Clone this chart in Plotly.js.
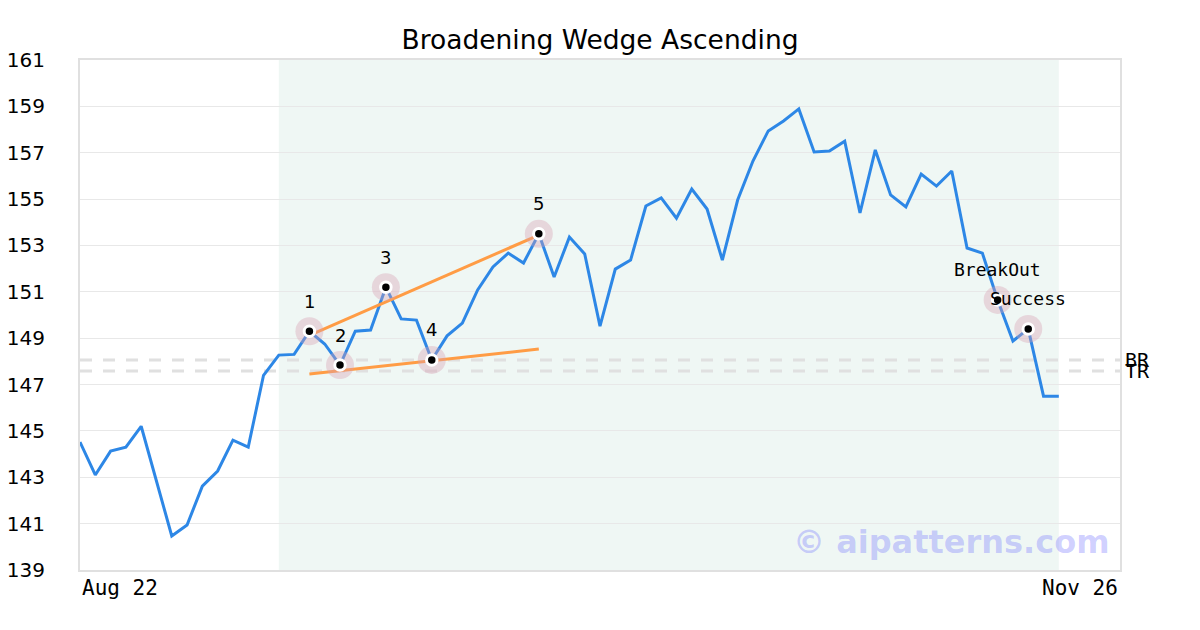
<!DOCTYPE html>
<html>
<head>
<meta charset="utf-8">
<script src="https://cdn.plot.ly/plotly-3.0.1.min.js"></script>
<style>html,body{margin:0;padding:0;background:#fff;}#chart{width:1200px;height:630px;}</style>
</head>
<body>
<div id="chart"></div>
<script>
// ---- data ----
const chartTitle = "Broadening Wedge Ascending";
const prices = [144.52,143.1,144.13,144.3,145.2,142.8,140.47,140.94,142.62,143.27,144.6,144.3,147.4,148.27,148.3,
  149.3,148.75,147.84,149.3,149.35,151.2,149.83,149.78,148.06,149.1,149.65,151.08,152.07,152.67,152.24,
  153.5,151.64,153.36,152.63,149.52,151.98,152.37,154.7,155.05,154.18,155.43,154.57,152.37,154.96,156.64,
  157.94,158.37,158.89,157.03,157.07,157.5,154.4,157.12,155.18,154.66,156.08,155.56,156.21,152.89,152.67,
  150.65,148.88,149.4,146.5,146.5];
const xIndex = prices.map((_, i) => i);
const xRange = [0, 68];
const tickLabels = ["Aug 22", "Nov 26"];
const yTicks = [139,141,143,145,147,149,151,153,155,157,159,161];
const patternIdx = [15, 17, 20, 23, 30];
const patternLabels = ["1", "2", "3", "4", "5"];
const signalIdx = [60, 62];
const signalLabels = ["BreakOut", "Success"];
const upperLineX = [15, 30];
const upperLineY = [149.12, 153.45];
const lowerLineX = [15, 30];
const lowerLineY = [147.45, 148.53];
const levelValues = [148.06, 147.58];
const levelNames = ["BR", "TR"];
const shadeRange = [13, 64];
const watermark = "© aipatterns.com";

// ---- traces ----
const allIdx = patternIdx.concat(signalIdx);
const traces = [
  {x: xIndex, y: prices, mode: "lines", line: {color: "#2d87e6", width: 3}, hoverinfo: "skip"},
  {x: upperLineX, y: upperLineY, mode: "lines", line: {color: "#ff9c45", width: 3}, hoverinfo: "skip"},
  {x: lowerLineX, y: lowerLineY, mode: "lines", line: {color: "#ff9c45", width: 3}, hoverinfo: "skip"},
  {x: allIdx, y: allIdx.map(i => prices[i]), mode: "markers",
   marker: {size: 28, color: "rgba(215,160,178,0.38)"}, hoverinfo: "skip"},
  {x: allIdx, y: allIdx.map(i => prices[i]), mode: "markers",
   marker: {size: 10.5, color: "#000", line: {color: "#fff", width: 3}}, hoverinfo: "skip"}
];

const annotations = [];
patternIdx.forEach((i, k) => annotations.push({
  x: i, y: prices[i], xref: "x", yref: "y", text: patternLabels[k], showarrow: false,
  yshift: 30, font: {family: "DejaVu Sans", size: 18, color: "#000"}
}));
signalIdx.forEach((i, k) => annotations.push({
  x: i, y: prices[i], xref: "x", yref: "y", text: signalLabels[k], showarrow: false,
  yshift: 30, font: {family: "DejaVu Sans Mono", size: 18, color: "#000"}
}));
levelValues.forEach((v, k) => annotations.push({
  x: 1, xref: "paper", y: v, yref: "y", text: levelNames[k], showarrow: false,
  xanchor: "left", xshift: 3, font: {family: "DejaVu Sans Mono", size: 20, color: "#000"}
}));
annotations.push({x: 0, xref: "paper", y: 0, yref: "paper", yanchor: "top", xanchor: "left", yshift: -4,
  text: tickLabels[0], showarrow: false, font: {family: "DejaVu Sans Mono", size: 21, color: "#000"}});
annotations.push({x: 1, xref: "paper", y: 0, yref: "paper", yanchor: "top", xanchor: "right", yshift: -4,
  text: tickLabels[1], showarrow: false, font: {family: "DejaVu Sans Mono", size: 21, color: "#000"}});
annotations.push({x: 1, xref: "paper", y: 0.055, yref: "paper", yanchor: "middle", xanchor: "right", xshift: -8,
  text: "<b>" + watermark + "</b>", showarrow: false,
  font: {family: "DejaVu Sans", size: 32, color: "rgba(110,110,255,0.33)"}});

const shapes = [{type: "rect", xref: "x", yref: "paper", x0: shadeRange[0], x1: shadeRange[1], y0: 0, y1: 1,
  fillcolor: "#eff7f4", line: {width: 0}, layer: "below"}];
levelValues.forEach(v => shapes.push({type: "line", xref: "paper", yref: "y", x0: 0, x1: 1, y0: v, y1: v,
  line: {color: "#e0e0e0", width: 3, dash: "12px,11px"}, layer: "below"}));

const layout = {
  width: 1200, height: 630,
  margin: {l: 80, r: 80, t: 60, b: 60},
  paper_bgcolor: "#fff", plot_bgcolor: "#fff",
  showlegend: false,
  title: {text: chartTitle, x: 0.5, xanchor: "center", y: 1 - 40/630, yanchor: "middle",
    font: {family: "DejaVu Sans", size: 26.5, color: "#000"}},
  xaxis: {range: xRange, showgrid: false, zeroline: false, showticklabels: false, ticks: "",
    showline: true, mirror: true, linecolor: "#e0e0e0", linewidth: 2},
  yaxis: {range: [139, 161], tickvals: yTicks, showgrid: true, gridcolor: "#e8e8e8", gridwidth: 1,
    zeroline: false, ticks: "outside", ticklen: 29, tickcolor: "rgba(0,0,0,0)",
    tickfont: {family: "DejaVu Sans", size: 20, color: "#000"},
    showline: true, mirror: true, linecolor: "#e0e0e0", linewidth: 2},
  annotations: annotations,
  shapes: shapes
};

Plotly.newPlot("chart", traces, layout, {staticPlot: true, displayModeBar: false});
</script>
</body>
</html>
